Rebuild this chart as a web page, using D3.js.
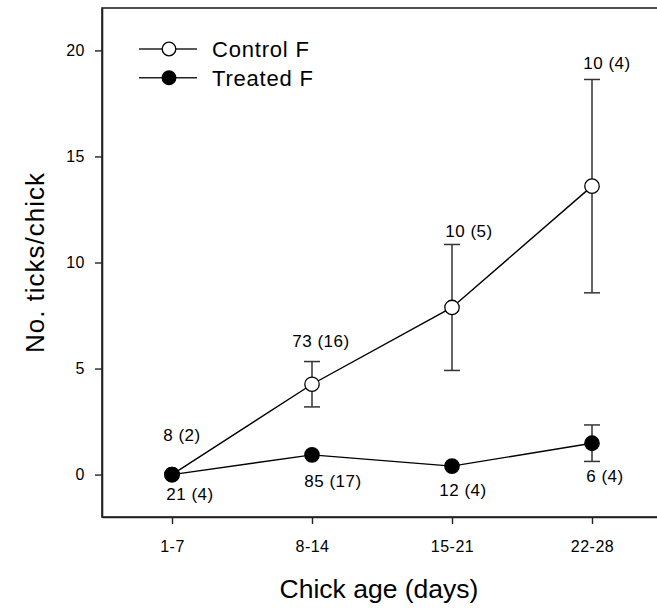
<!DOCTYPE html>
<html>
<head>
<meta charset="utf-8">
<script src="https://cdn.jsdelivr.net/npm/d3@7"></script>
<style>
  html, body { margin: 0; padding: 0; background: #fff; }
  svg text { font-family: "Liberation Sans", Arial, sans-serif; fill: #000; }
</style>
</head>
<body>
<div id="chart"></div>
<script>
// chick age classes (x categories)
const ages = ["1-7", "8-14", "15-21", "22-28"];
const yTicks = [0, 5, 10, 15, 20];

// mean ticks per chick and error (+/-)
const controlMean = [0, 4.26, 7.88, 13.6];
const controlErr = [0, 1.07, 2.97, 5.03];
const treatedMean = [0, 0.93, 0.40, 1.48];
const treatedErr = [0, 0, 0, 0.86];

// sample size labels, n (broods)
const controlLabels = ["8 (2)", "73 (16)", "10 (5)", "10 (4)"];
const treatedLabels = ["21 (4)", "85 (17)", "12 (4)", "6 (4)"];

const seriesNames = ["Control F", "Treated F"];

const width = 657;
const height = 608;
const margin = { top: 8, right: -5, bottom: 91, left: 102 };

const svg = d3.select("#chart").append("svg")
    .attr("width", width)
    .attr("height", height);

const x = d3.scaleLinear()
    .domain([0.5, 4.5])
    .range([margin.left, width - margin.right]);

const y = d3.scaleLinear()
    .domain([-2, 22])
    .range([height - margin.bottom, margin.top]);

const axisColor = "#222";

// frame (top line; right edge falls off the picture)
svg.append("rect")
    .attr("x", margin.left)
    .attr("y", margin.top)
    .attr("width", x.range()[1] - margin.left)
    .attr("height", y.range()[0] - margin.top)
    .attr("fill", "none")
    .attr("stroke", axisColor)
    .attr("stroke-width", 1.6);

const xAxis = svg.append("g")
    .attr("transform", `translate(0,${y.range()[0]})`)
    .call(d3.axisBottom(x)
        .tickValues([1, 2, 3, 4])
        .tickFormat((d, i) => ages[i])
        .tickSizeInner(7).tickSizeOuter(0).tickPadding(17));

const yAxis = svg.append("g")
    .attr("transform", `translate(${margin.left},0)`)
    .call(d3.axisLeft(y)
        .tickValues(yTicks)
        .tickSizeInner(7).tickSizeOuter(0).tickPadding(10));

[xAxis, yAxis].forEach(a => {
    a.select(".domain").attr("stroke", axisColor).attr("stroke-width", 1.6);
    a.selectAll(".tick line").attr("stroke", axisColor).attr("stroke-width", 1.4);
    a.selectAll(".tick text")
        .attr("fill", "#000")
        .style("font-size", "16px")
        .style("letter-spacing", "0.5px")
        .style("font-family", "'Liberation Sans', Arial, sans-serif");
});

// axis titles
svg.append("text")
    .attr("x", (margin.left + x.range()[1]) / 2 - 3)
    .attr("y", 598)
    .attr("text-anchor", "middle")
    .style("font-size", "26.5px")
    .text("Chick age (days)");

svg.append("text")
    .attr("transform", `translate(44,${(y.range()[0] + margin.top) / 2}) rotate(-90)`)
    .attr("text-anchor", "middle")
    .style("font-size", "26px")
    .style("letter-spacing", "1px")
    .text("No. ticks/chick");

const line = d3.line()
    .x((d, i) => x(i + 1))
    .y(d => y(d));

const series = [
    { mean: controlMean, err: controlErr, fill: "#fff", labels: controlLabels,
      // label offsets (px) from top of error bar / point
      dx: [10, 9, 17, 15], dy: [-33.5, -15, -7.6, -10], above: true },
    { mean: treatedMean, err: treatedErr, fill: "#000", labels: treatedLabels,
      dx: [18, 21, 11, 13], dy: [25, 32, 30, 20.7], above: false }
];

series.forEach(s => {
    svg.append("path")
        .datum(s.mean)
        .attr("d", line)
        .attr("fill", "none")
        .attr("stroke", "#000")
        .attr("stroke-width", 1.4);
});

series.forEach(s => {
    const g = svg.append("g");
    s.mean.forEach((m, i) => {
        if (!s.err[i]) return;
        const cx = x(i + 1);
        const y1 = y(m + s.err[i]);
        const y2 = y(m - s.err[i]);
        g.append("line").attr("x1", cx).attr("x2", cx).attr("y1", y1).attr("y2", y2);
        g.append("line").attr("x1", cx - 8).attr("x2", cx + 8).attr("y1", y1).attr("y2", y1);
        g.append("line").attr("x1", cx - 8).attr("x2", cx + 8).attr("y1", y2).attr("y2", y2);
    });
    g.selectAll("line").attr("stroke", "#333").attr("stroke-width", 1.5);
});

series.forEach(s => {
    svg.append("g").selectAll("circle")
        .data(s.mean)
        .join("circle")
        .attr("cx", (d, i) => x(i + 1))
        .attr("cy", d => y(d))
        .attr("r", 7.2)
        .attr("fill", s.fill)
        .attr("stroke", "#000")
        .attr("stroke-width", 1.3);
});

series.forEach(s => {
    svg.append("g").selectAll("text")
        .data(s.labels)
        .join("text")
        .attr("x", (d, i) => x(i + 1) + s.dx[i])
        .attr("y", (d, i) => {
            const ref = s.err[i] ? (s.above ? s.mean[i] + s.err[i] : s.mean[i] - s.err[i]) : s.mean[i];
            return y(ref) + s.dy[i];
        })
        .attr("text-anchor", "middle")
        .style("font-size", "17px")
        .style("letter-spacing", "0.5px")
        .text(d => d);
});

// legend
const legend = svg.append("g");
const legendY = [49, 77.7];
seriesNames.forEach((name, i) => {
    legend.append("line")
        .attr("x1", 139).attr("x2", 197)
        .attr("y1", legendY[i]).attr("y2", legendY[i])
        .attr("stroke", "#222").attr("stroke-width", 1.4);
    legend.append("circle")
        .attr("cx", 169).attr("cy", legendY[i]).attr("r", 6.8)
        .attr("fill", series[i].fill).attr("stroke", "#000").attr("stroke-width", 1.3);
    legend.append("text")
        .attr("x", 212).attr("y", legendY[i] + 7.8)
        .style("font-size", "22px")
        .style("letter-spacing", "0.8px")
        .text(name);
});
</script>
</body>
</html>
